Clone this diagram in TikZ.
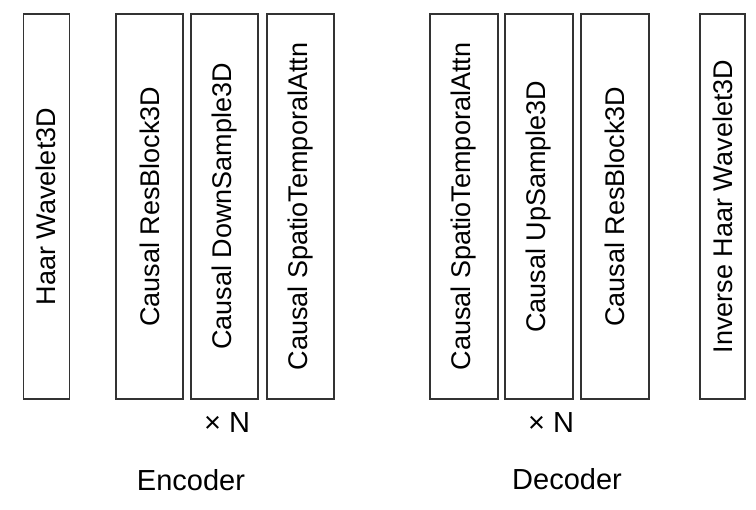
\documentclass[tikz,border=0pt]{standalone}
\usepackage{fontspec}
\setmainfont{Liberation Sans}
\usepackage{tikz}

\begin{document}
\begin{tikzpicture}[x=1pt,y=-1pt,
  layer/.style={draw=black!80,line width=1.2pt,rotate=90,minimum width=385pt,
    inner sep=0pt,font=\fontsize{27}{30}\selectfont},
  caption/.style={font=\fontsize{29}{32}\selectfont,inner sep=0pt}]
\useasboundingbox (0,0) rectangle (756,510);
% encoder
\node[layer,minimum height=46pt] (haar) at (46.2,206.5) {Haar Wavelet3D};
\node[layer,minimum height=67pt] (eres) at (149.5,206.5) {Causal ResBlock3D};
\node[layer,minimum height=67pt] (down) at (224.5,206.5) {Causal DownSample3D};
\node[layer,minimum height=67pt] (eatt) at (300.5,206.5) {Causal SpatioTemporalAttn};
\node[caption] (encn) at (227,423) {× N};
\node[caption] (enc) at (191,480) {Encoder};
% decoder
\node[layer,minimum height=68pt] (datt) at (464,206.5) {Causal SpatioTemporalAttn};
\node[layer,minimum height=68pt] (up) at (539,206.5) {Causal UpSample3D};
\node[layer,minimum height=68pt] (dres) at (615,206.5) {Causal ResBlock3D};
\node[layer,minimum height=45pt] (ihaar) at (722.5,206.5) {Inverse Haar Wavelet3D};
\node[caption] (decn) at (551,423) {× N};
\node[caption] (dec) at (567,479) {Decoder};
\end{tikzpicture}
\end{document}
